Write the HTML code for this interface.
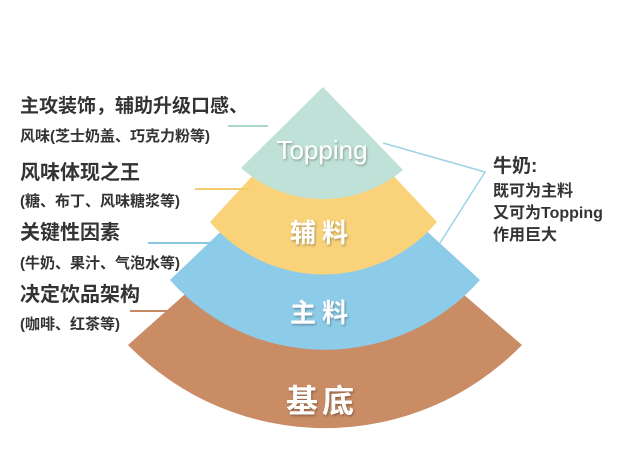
<!DOCTYPE html>
<html><head><meta charset="utf-8"><style>
html,body{margin:0;padding:0;background:#fff;}
svg{display:block;}
.l{font-family:"Liberation Sans","Noto Sans CJK SC",sans-serif;font-weight:bold;fill:#333;}
.c{font-family:"Liberation Sans","Noto Sans CJK SC",sans-serif;fill:#fff;text-anchor:middle;dominant-baseline:central;filter:url(#sh);}
</style></head><body>
<svg width="640" height="472" viewBox="0 0 640 472" xmlns="http://www.w3.org/2000/svg">
<defs><filter id="sh" x="-20%" y="-20%" width="140%" height="140%"><feDropShadow dx="1" dy="1.5" stdDeviation="1" flood-color="#000" flood-opacity="0.3"/></filter></defs>
<rect width="640" height="472" fill="#fff"/>
<path d="M322 172 L128 345 A275 275 0 0 0 522 345 Z" fill="#c98c65"/>
<path d="M322 135 L170 280 A207 207 0 0 0 480 280 Z" fill="#8dcce8"/>
<path d="M322 100 L210 222 A149 149 0 0 0 437 222 Z" fill="#f9d27a"/>
<path d="M323 87 L241 168 A124 124 0 0 0 403 170 Z" fill="#c0e1d7"/>
<g stroke-width="2" fill="none">
<line x1="228" y1="126" x2="268" y2="126" stroke="#a6d6cc"/>
<line x1="195" y1="189" x2="250" y2="189" stroke="#f5cc70"/>
<line x1="148" y1="243" x2="210" y2="243" stroke="#88c8e2"/>
<line x1="130" y1="311" x2="168" y2="311" stroke="#c48a65"/>
<polyline points="383,143 485,172 440,243" stroke="#9cd3e6" stroke-width="1.5"/>
</g>
<text class="c" x="322" y="150" font-size="26">Topping</text>
<text class="c" x="322" y="233" font-size="26" font-weight="bold" letter-spacing="6">辅料</text>
<text class="c" x="322" y="313" font-size="26" font-weight="bold" letter-spacing="6">主料</text>
<text class="c" x="322" y="401" font-size="32" font-weight="bold" letter-spacing="4">基底</text>
<text class="l" x="20" y="112" font-size="19">主攻装饰，辅助升级口感、</text>
<text class="l" x="20" y="141" font-size="15">风味(芝士奶盖、巧克力粉等)</text>
<text class="l" x="20" y="179" font-size="20">风味体现之王</text>
<text class="l" x="20" y="206" font-size="15">(糖、布丁、风味糖浆等)</text>
<text class="l" x="20" y="239" font-size="20">关键性因素</text>
<text class="l" x="20" y="268" font-size="15">(牛奶、果汁、气泡水等)</text>
<text class="l" x="20" y="301" font-size="20">决定饮品架构</text>
<text class="l" x="20" y="329" font-size="15">(咖啡、红茶等)</text>
<text class="l" x="493" y="172" font-size="19">牛奶:</text>
<text class="l" x="493" y="196" font-size="16">既可为主料</text>
<text class="l" x="493" y="218" font-size="16">又可为Topping</text>
<text class="l" x="493" y="240" font-size="16">作用巨大</text>
</svg>
</body></html>
